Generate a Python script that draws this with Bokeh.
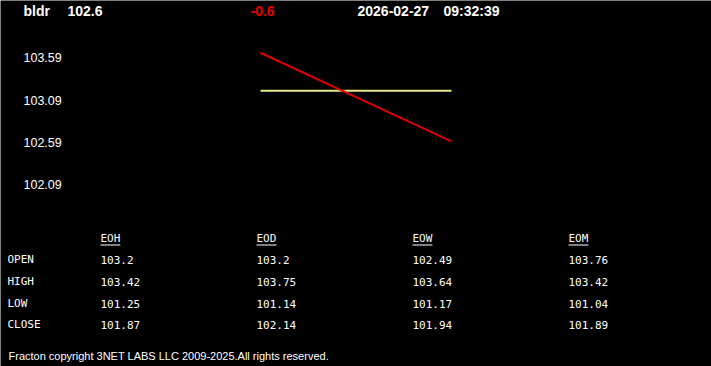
from bokeh.plotting import figure
from bokeh.models import Range1d, ColumnDataSource
from bokeh.core.properties import value
from bokeh.embed import file_html
from bokeh.resources import INLINE

# ---- data ----
symbol = "bldr"
last_price = 102.6
change = -0.6
date_str = "2026-02-27"
time_str = "09:32:39"

y_ticks = [103.59, 103.09, 102.59, 102.09]
t_index = [0, 1]
price_line = [103.65, 102.6]
open_line = [103.2, 103.2]

periods = ["EOH", "EOD", "EOW", "EOM"]
row_labels = ["OPEN", "HIGH", "LOW", "CLOSE"]
open_vals = [103.2, 103.2, 102.49, 103.76]
high_vals = [103.42, 103.75, 103.64, 103.42]
low_vals = [101.25, 101.14, 101.17, 101.04]
close_vals = [101.87, 102.14, 101.94, 101.89]
footer = "Fracton copyright 3NET LABS LLC 2009-2025.All rights reserved."

W, H = 711, 366
p = figure(width=W, height=H, output_backend="svg", toolbar_location=None,
           x_range=Range1d(0, W), y_range=Range1d(H, 0),
           min_border=0, background_fill_color="black", border_fill_color="black",
           outline_line_color=None)
p.axis.visible = False
p.xaxis.visible = False
p.yaxis.visible = False
p.grid.visible = False

# price scale: 103.59 at px 57.3, 84.4 px per unit
px_per_unit = 84.4
top_price = 103.59 + 57.3 / px_per_unit
bot_price = top_price - H / px_per_unit
p.extra_y_ranges = {"price": Range1d(bot_price, top_price)}
# time scale: index 0 at px 260, 1 at px 451
span = 191.0
p.extra_x_ranges = {"t": Range1d(-260 / span, (W - 260) / span)}

p.line(t_index, open_line, x_range_name="t", y_range_name="price",
       line_color="#e8e88c", line_width=2)
p.line(t_index, price_line, x_range_name="t", y_range_name="price",
       line_color="#dd0000", line_width=2)

# y tick labels
p.text(x=[23] * len(y_ticks), y=y_ticks, text=[f"{v:.2f}" for v in y_ticks],
       y_range_name="price", text_color="white", text_font=value("Liberation Sans"),
       text_font_size="12.5px", text_baseline="middle", text_align="left")

# header
hdr_font = dict(text_font=value("Liberation Sans"), text_font_size="14px",
                text_font_style="bold", text_baseline="middle", text_align="left")
p.text(x=[23, 67], y=[10, 10], text=[symbol, f"{last_price}"], text_color="white", **hdr_font)
p.text(x=[250], y=[10], text=[f"{change}"], text_color="#ee0000", **hdr_font)
p.text(x=[357, 443], y=[10, 10], text=[date_str, time_str], text_color="white", **hdr_font)

# table
mono = dict(text_font=value("DejaVu Sans Mono"), text_font_size="11px",
            text_baseline="middle", text_align="left", text_color="white")
col_x = [100, 256, 412, 568]
row_y = [259, 281, 303, 324]
p.text(x=col_x, y=[238] * 4, text=periods, **mono)
char_w = 11 * 0.602
p.segment(x0=col_x, y0=[244.5] * 4, x1=[x + len(s) * char_w for x, s in zip(col_x, periods)],
          y1=[244.5] * 4, line_color="white", line_width=1)
p.text(x=[7] * 4, y=row_y, text=row_labels, **mono)
for ry, vals in zip(row_y, [open_vals, high_vals, low_vals, close_vals]):
    p.text(x=col_x, y=[ry] * 4, text=[f"{v:g}" for v in vals], **mono)

# footer
p.text(x=[8], y=[355], text=[footer], text_color="white", text_font=value("Liberation Sans"),
       text_font_size="11px", text_baseline="middle", text_align="left")

open("out.html", "w").write(file_html(p, INLINE))
